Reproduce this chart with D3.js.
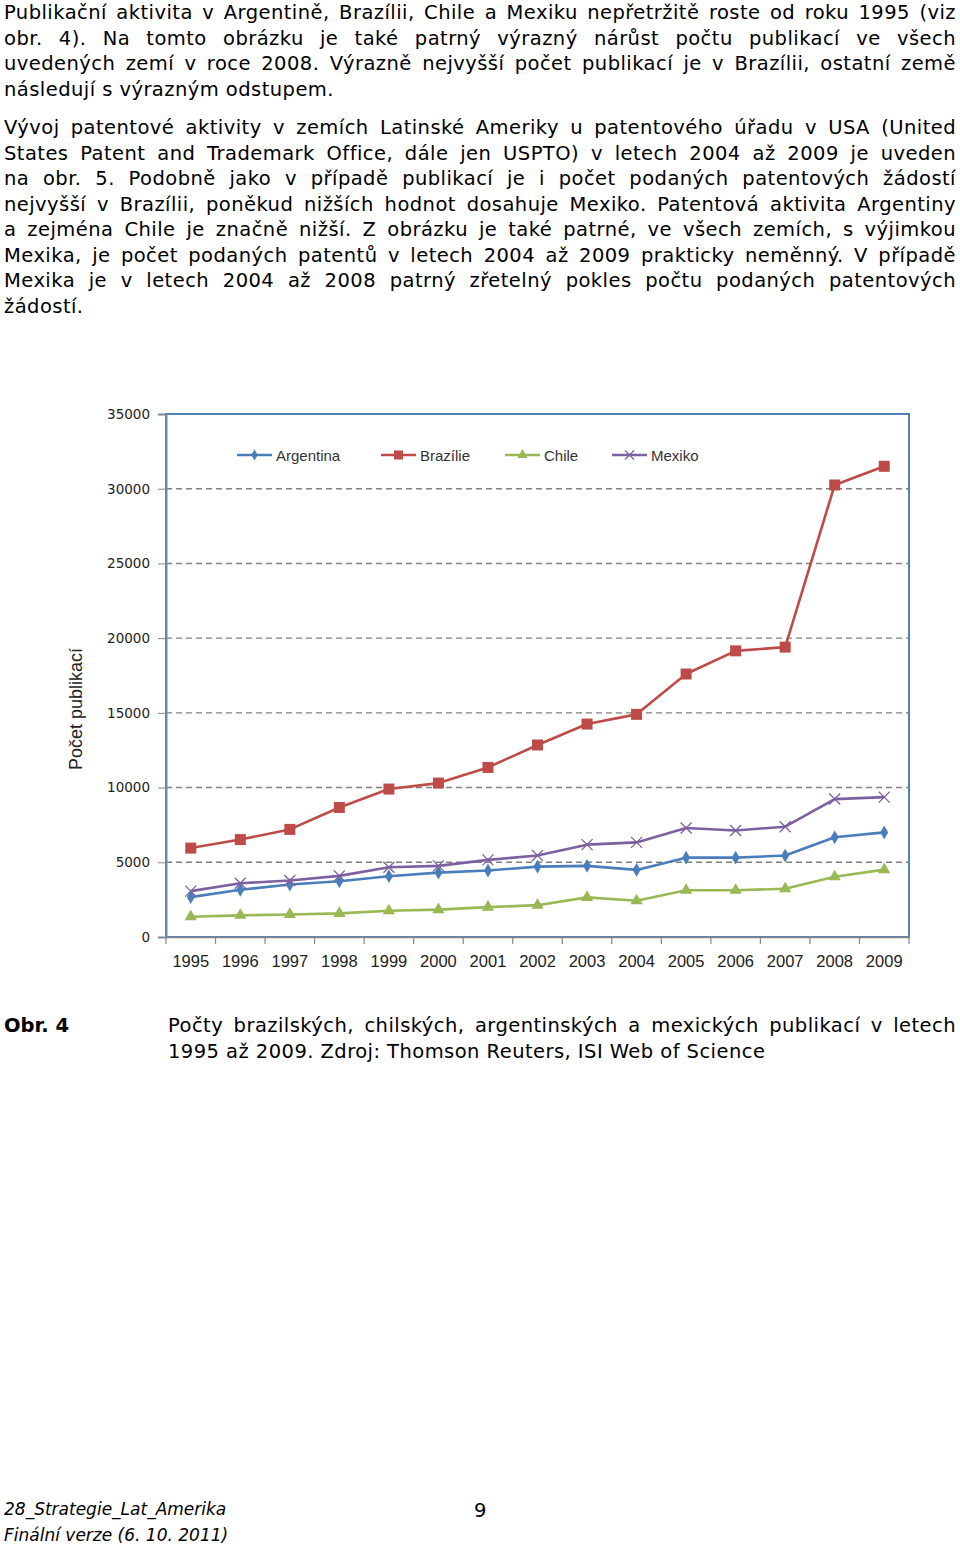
<!DOCTYPE html>
<html><head><meta charset="utf-8">
<script src="https://cdn.jsdelivr.net/npm/d3@7/dist/d3.min.js"></script>
<style>
html,body{margin:0;padding:0;background:#fff;width:960px;height:1549px;overflow:hidden;}
#page{position:relative;width:960px;height:1549px;}
svg{position:absolute;left:0;top:0;}
.txt{position:absolute;left:4px;font-family:"DejaVu Sans",Verdana,sans-serif;font-size:19.5px;letter-spacing:0.45px;line-height:25.5px;color:#000;}
.ln{white-space:nowrap;display:block;}
.ln span{white-space:nowrap;}
</style></head>
<body><div id="page"><svg id="chart" width="960" height="1549"></svg></div>
<script>
// ---- data ----
const years = ["1995","1996","1997","1998","1999","2000","2001","2002","2003","2004","2005","2006","2007","2008","2009"];
const argentina = [2670,3160,3510,3730,4070,4310,4450,4710,4760,4490,5310,5310,5450,6670,7000];
const brazilie  = [5950,6520,7200,8670,9900,10300,11350,12850,14250,14900,17600,19150,19400,30250,31500];
const chile     = [1360,1450,1510,1580,1760,1830,2000,2130,2650,2430,3130,3130,3230,4030,4510];
const mexiko    = [3070,3600,3780,4090,4670,4760,5160,5450,6180,6330,7290,7130,7380,9230,9360];
const seriesNames = ["Argentina","Brazílie","Chile","Mexiko"];
const yTicks = [0,5000,10000,15000,20000,25000,30000,35000];
const yTitle = "Počet publikací";

const para1 = [
 "Publikační aktivita v Argentině, Brazílii, Chile a Mexiku nepřetržitě roste od roku 1995 (viz",
 "obr. 4). Na tomto obrázku je také patrný výrazný nárůst počtu publikací ve všech",
 "uvedených zemí v roce 2008. Výrazně nejvyšší počet publikací je v Brazílii, ostatní země",
 "následují s výrazným odstupem."];
const para2 = [
 "Vývoj patentové aktivity v zemích Latinské Ameriky u patentového úřadu v USA (United",
 "States Patent and Trademark Office, dále jen USPTO) v letech 2004 až 2009 je uveden",
 "na obr. 5. Podobně jako v případě publikací je i počet podaných patentových žádostí",
 "nejvyšší v Brazílii, poněkud nižších hodnot dosahuje Mexiko. Patentová aktivita Argentiny",
 "a zejména Chile je značně nižší. Z obrázku je také patrné, ve všech zemích, s výjimkou",
 "Mexika, je počet podaných patentů v letech 2004 až 2009 prakticky neměnný. V případě",
 "Mexika je v letech 2004 až 2008 patrný zřetelný pokles počtu podaných patentových",
 "žádostí."];
const captionLabel = "Obr. 4";
const caption = [
 "Počty brazilských, chilských, argentinských a mexických publikací v letech",
 "1995 až 2009. Zdroj: Thomson Reuters, ISI Web of Science"];
const footer = ["28_Strategie_Lat_Amerika","Finální verze (6. 10. 2011)"];
const pageNum = "9";

// ---- text blocks (justified by measured word-spacing) ----
const page = d3.select("#page");
function para(lines, top, left, width){
  const d = page.append("div").attr("class","txt").style("top",top+"px").style("left",left+"px");
  lines.forEach((t,i)=>{
    const row = d.append("div").attr("class","ln");
    const sp = row.append("span").text(t);
    if(i<lines.length-1){
      const w = sp.node().getBoundingClientRect().width;
      const n = (t.match(/ /g)||[]).length;
      if(n>0) sp.style("word-spacing", ((width-w)/n)+"px");
    }
  });
  return d;
}
para(para1, 0, 4, 952);
para(para2, 115, 4, 952);
page.append("div").attr("class","txt").style("top","1013px").style("font-weight","bold").style("letter-spacing","0px").text(captionLabel);
para(caption, 1013, 168, 788);
page.append("div").attr("class","txt").style("top","1496px").style("font-size","17px").style("letter-spacing","0px").style("font-style","italic").style("line-height","26px")
  .html(footer.join("<br>"));
page.append("div").attr("class","txt").style("top","1498px").style("left","474px").style("letter-spacing","0px").text(pageNum);

// ---- chart ----
const svg = d3.select("#chart");
const L=166, R=909, T=414, B=937;
const x = d3.scaleBand().domain(years).range([L,R]);
const y = d3.scaleLinear().domain([0,35000]).range([B,T]);
const colors = ["#4a7ebb","#be4b48","#98b954","#7d60a0"];
const data = [argentina,brazilie,chile,mexiko];

// gridlines
svg.append("g").selectAll("line").data(yTicks.filter(v=>v>0&&v<35000)).join("line")
  .attr("x1",L).attr("x2",R).attr("y1",d=>y(d)).attr("y2",d=>y(d))
  .attr("stroke","#808080").attr("stroke-width",1.4).attr("stroke-dasharray","6,4");

// plot border
svg.append("rect").attr("x",L).attr("y",T).attr("width",R-L).attr("height",B-T)
  .attr("fill","none").attr("stroke","#4f81bd").attr("stroke-width",2);

// y axis
const yAxis = svg.append("g").attr("transform",`translate(${L},0)`)
  .call(d3.axisLeft(y).tickValues(yTicks).tickSize(8).tickPadding(8).tickFormat(d3.format("d")));
yAxis.select(".domain").attr("stroke","#6f8aa3").attr("stroke-width",2);
yAxis.selectAll(".tick line").attr("stroke","#868686");
yAxis.selectAll("text").attr("font-family","'DejaVu Sans',Verdana,sans-serif").attr("font-size",13.5).attr("fill","#222");

// x axis
const xAxis = svg.append("g").attr("transform",`translate(0,${B})`)
  .call(d3.axisBottom(x).tickSize(0).tickPadding(18));
xAxis.select(".domain").attr("stroke","#868686").attr("stroke-width",1.5);
xAxis.selectAll("text").attr("font-family","'Liberation Sans',Arial,sans-serif").attr("font-size",16.5).attr("fill","#222");
// band-boundary ticks
svg.append("g").selectAll("line").data(years.concat(["end"])).join("line")
  .attr("x1",(d,i)=> i<years.length ? x(d) : R).attr("x2",(d,i)=> i<years.length ? x(d) : R)
  .attr("y1",B).attr("y2",B+7).attr("stroke","#868686").attr("stroke-width",1.2);

// y title
svg.append("text").attr("transform","translate(82,709) rotate(-90)").attr("text-anchor","middle")
  .attr("font-family","'Liberation Sans',Arial,sans-serif").attr("font-size",18).attr("fill","#222").text(yTitle);

// markers
function marker(g, k, cx, cy, s, col){
  if(k===0){ g.append("path").attr("d",d3.symbol(d3.symbolDiamond, s*s*0.55)()).attr("transform",`translate(${cx},${cy})`).attr("fill",col); }
  if(k===1){ g.append("rect").attr("x",cx-s/2).attr("y",cy-s/2).attr("width",s).attr("height",s).attr("fill",col); }
  if(k===2){ g.append("path").attr("d",d3.symbol(d3.symbolTriangle, s*s*0.45)()).attr("transform",`translate(${cx},${cy})`).attr("fill",col); }
  if(k===3){ const h=s/2; g.append("path").attr("d",`M${cx-h},${cy-h}L${cx+h},${cy+h}M${cx-h},${cy+h}L${cx+h},${cy-h}`).attr("stroke",col).attr("stroke-width",1.3).attr("fill","none"); }
}
const line = d3.line().x((d,i)=>x(years[i])+x.bandwidth()/2).y(d=>y(d));
const order=[2,0,3,1];
order.forEach(k=>{
  const g = svg.append("g");
  g.append("path").attr("d",line(data[k])).attr("fill","none").attr("stroke",colors[k]).attr("stroke-width",2.6).attr("stroke-linejoin","round");
  data[k].forEach((v,i)=>marker(g,k,x(years[i])+x.bandwidth()/2,y(v),k===1?11:k===2?12:k===3?11:10,colors[k]));
});

// legend
const legX=[237,381,505,612], legY=455;
seriesNames.forEach((n,k)=>{
  const g=svg.append("g");
  g.append("line").attr("x1",legX[k]).attr("x2",legX[k]+35).attr("y1",legY).attr("y2",legY).attr("stroke",colors[k]).attr("stroke-width",2.4);
  marker(g,k,legX[k]+17.5,legY,k===1?9:k===2?10:k===3?9:8,colors[k]);
  g.append("text").attr("x",legX[k]+39).attr("y",legY+5.5).attr("font-family","'Liberation Sans',Arial,sans-serif").attr("font-size",15).attr("fill","#333").text(n);
});
</script></body></html>
